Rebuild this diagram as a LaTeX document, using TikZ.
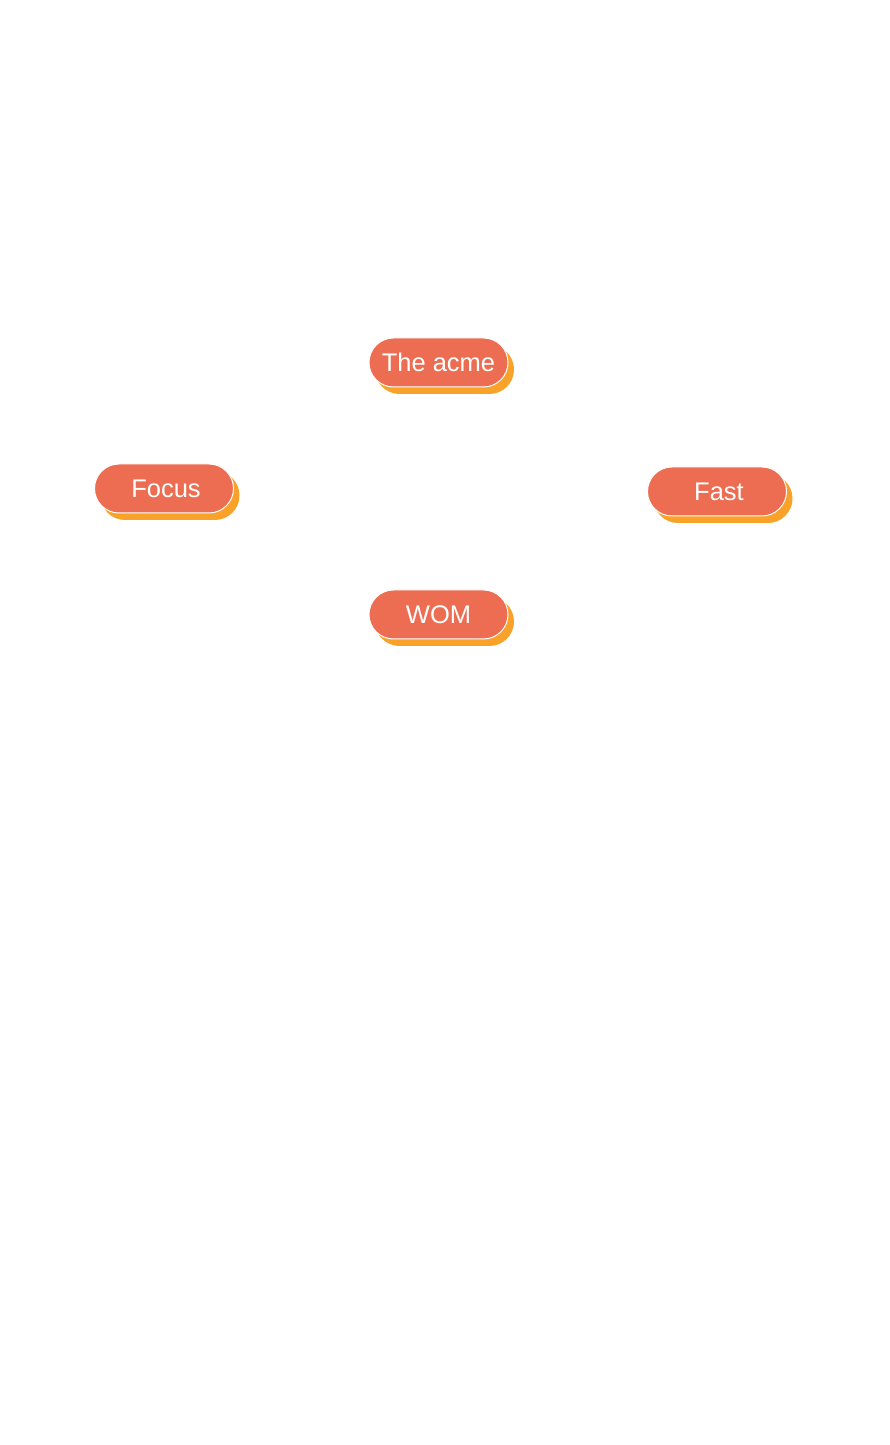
\documentclass[tikz,border=0pt]{standalone}
\usepackage{fontspec}
\setmainfont{Liberation Sans}
\usetikzlibrary{shapes.misc}
\definecolor{pillfill}{HTML}{EC6D52}
\definecolor{pillshadow}{HTML}{F9A229}
\begin{document}
\begin{tikzpicture}[x=1pt,y=1pt,
  pill/.style={rounded rectangle, minimum width=139pt, minimum height=49pt,
    fill=pillfill, draw=white, line width=1pt, text=white,
    font=\fontsize{25.5}{30}\selectfont, inner sep=0pt},
  pillback/.style={rounded rectangle, minimum width=139pt, minimum height=49pt,
    fill=pillshadow, inner sep=0pt}]
\useasboundingbox[fill=white] (0,0) rectangle (889,1445);
% orange backing shapes
\foreach \x/\y in {438.5/1082.5, 164/956.5, 717/953.5, 438.5/830.5}
  \node[pillback] at (\x+6,\y-7) {};
% labelled pills
\node[pill] (acme)  at (438.5,1082.5) {The acme};
\node[pill] (focus) at (164,956.5) {\hspace{4pt}Focus};
\node[pill] (fast)  at (717,953.5) {\hspace{4pt}Fast};
\node[pill] (wom)   at (438.5,830.5) {WOM};
\end{tikzpicture}
\end{document}
